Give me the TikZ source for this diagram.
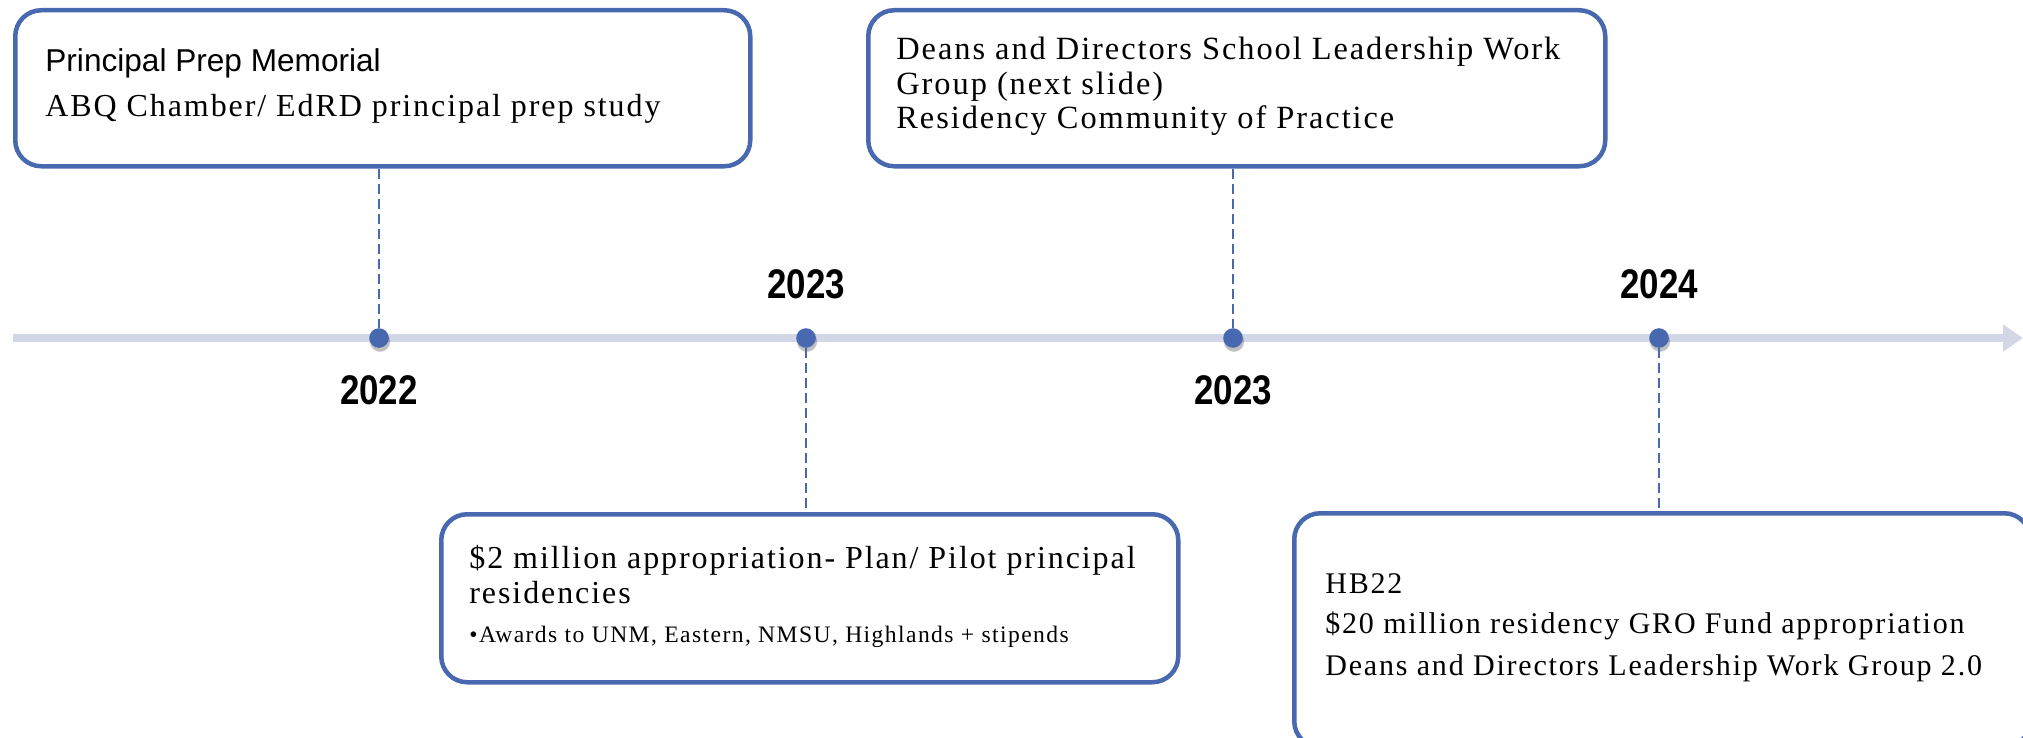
\documentclass[tikz,border=0pt]{standalone}
\usepackage{graphicx}
\usepackage{fontspec}
\setmainfont{Liberation Serif}
\setsansfont{Liberation Sans}
\newfontfamily\boxserif[LetterSpace=6]{Liberation Serif}
\usetikzlibrary{arrows.meta,shadows}
\definecolor{tlblue}{RGB}{72,104,175}
\definecolor{tlline}{RGB}{210,214,230}
\newcommand{\yeartext}[1]{\scalebox{0.97}[1.15]{#1}}
\begin{document}
\begin{tikzpicture}[x=0.5pt,y=-0.5pt,
  evbox/.style={draw=tlblue, line width=2.25pt, rounded corners=13pt, fill=white, anchor=north west, inner sep=0pt},
  tldot/.style={circle, fill=tlblue, inner sep=0pt, minimum size=9.8pt,
    circular drop shadow={shadow xshift=0.3pt, shadow yshift=-1.5pt, fill=black, opacity=0.25}},
  conn/.style={draw=tlblue, line width=0.75pt, dash pattern=on 5pt off 2.5pt},
  year/.style={font=\sffamily\bfseries\fontsize{18}{22}\selectfont, inner sep=0pt},
  sanstxt/.style={anchor=base west, inner sep=0pt, font=\sffamily\fontsize{15.8}{18}\selectfont},
  sertxt/.style={anchor=base west, inner sep=0pt, font=\boxserif\fontsize{16}{19}\selectfont},
  sertxtw/.style={anchor=base west, inner sep=0pt, font=\boxserif\fontsize{16.2}{19}\selectfont},
  sertxtb/.style={anchor=base west, inner sep=0pt, font=\boxserif\fontsize{15}{18}\selectfont},
  smalltxt/.style={anchor=base west, inner sep=0pt, font=\boxserif\fontsize{11.8}{14}\selectfont}
]
\useasboundingbox (0,0) rectangle (2023,738);
\clip (0,0) rectangle (2023,738);

% timeline
\coordinate (tlstart) at (13,338);
\coordinate (tlend) at (2023,338);
\draw[tlline, line width=4pt, -{Triangle[length=10pt,width=13pt]}] (tlstart) -- (tlend);

% boxes
\node[evbox, minimum width=367.5pt, minimum height=78pt] (b1) at (13,8) {};
\node[evbox, minimum width=368.5pt, minimum height=78pt] (b2) at (866,8) {};
\node[evbox, minimum width=368.5pt, minimum height=84pt] (b3) at (439,512) {};
\node[evbox, minimum width=368pt, minimum height=117pt] (b4) at (1292,511) {};

% dots
\node[tldot] (d1) at (379,338) {};
\node[tldot] (d2) at (806,338) {};
\node[tldot] (d3) at (1233,338) {};
\node[tldot] (d4) at (1659,338) {};

% connectors
\draw[conn] (d1 |- b1.south) -- (d1.north);
\draw[conn] (d2.south) -- (d2 |- b3.north);
\draw[conn] (d3 |- b2.south) -- (d3.north);
\draw[conn] (d4.south) -- (d4 |- b4.north);

% years
\node[year] (y1) at (379,390) {\yeartext{2022}};
\node[year] (y2) at (806,284) {\yeartext{2023}};
\node[year] (y3) at (1233,390) {\yeartext{2023}};
\node[year] (y4) at (1659,284) {\yeartext{2024}};

% box 1 text
\node[sanstxt] (t1a) at (45,72) {Principal Prep Memorial};
\node[sertxt] (t1b) at (45,117) {ABQ Chamber/ EdRD principal prep study};

% box 2 text
\node[sertxtw] (t2a) at (896,60) {Deans and Directors School Leadership Work};
\node[sertxtw] (t2b) at (896,95) {Group (next slide)};
\node[sertxtw] (t2c) at (896,128) {Residency Community of Practice};

% box 3 text
\node[sertxt] (t3a) at (469,568) {\$2 million appropriation- Plan/ Pilot principal};
\node[sertxt] (t3b) at (469,603) {residencies};
\node[smalltxt] (t3c) at (469,642) {\textbullet Awards to UNM, Eastern, NMSU, Highlands + stipends};

% box 4 text
\node[sertxtb] (t4a) at (1325,593) {HB22};
\node[sertxtb] (t4b) at (1325,633) {\$20 million residency GRO Fund appropriation};
\node[sertxtb] (t4c) at (1325,675) {Deans and Directors Leadership Work Group 2.0};
\end{tikzpicture}
\end{document}
